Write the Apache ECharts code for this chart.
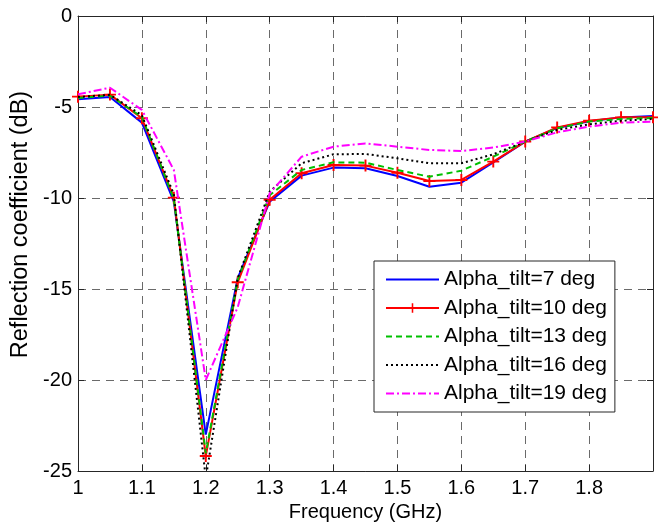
<!DOCTYPE html>
<html>
<head>
<meta charset="utf-8">
<script src="https://cdn.jsdelivr.net/npm/echarts@6/dist/echarts.min.js"></script>
<style>
html,body{margin:0;padding:0;background:#fff;}
#chart{width:658px;height:529px;}
</style>
</head>
<body>
<div id="chart"></div>
<script>
const freq = [1.00,1.05,1.10,1.15,1.20,1.25,1.30,1.35,1.40,1.45,1.50,1.55,1.60,1.65,1.70,1.75,1.80,1.85,1.90];
const tilt7  = [-4.58,-4.45,-5.86,-10.2,-23.0,-14.4,-10.2,-8.77,-8.33,-8.37,-8.79,-9.38,-9.16,-8.05,-6.9,-6.15,-5.78,-5.57,-5.49];
const tilt10 = [-4.43,-4.32,-5.62,-9.98,-24.18,-14.63,-10.1,-8.64,-8.19,-8.22,-8.61,-9.07,-9.01,-8.0,-6.9,-6.12,-5.75,-5.57,-5.57];
const tilt13 = [-4.5,-4.38,-5.55,-10.05,-24.03,-14.5,-9.85,-8.46,-8.04,-8.06,-8.46,-8.83,-8.5,-7.73,-6.9,-6.17,-5.8,-5.66,-5.6];
const tilt16 = [-4.45,-4.33,-5.45,-9.8,-25.4,-14.4,-9.65,-8.09,-7.6,-7.58,-7.82,-8.09,-8.09,-7.6,-6.9,-6.26,-5.95,-5.76,-5.66];
const tilt19 = [-4.3,-3.94,-5.16,-8.46,-20.0,-16.0,-9.75,-7.73,-7.18,-7.0,-7.18,-7.36,-7.42,-7.23,-6.9,-6.39,-6.08,-5.86,-5.8];
const seriesNames = ['Alpha_tilt=7 deg','Alpha_tilt=10 deg','Alpha_tilt=13 deg','Alpha_tilt=16 deg','Alpha_tilt=19 deg'];
const xTicks = [1,1.1,1.2,1.3,1.4,1.5,1.6,1.7,1.8];
const yTicks = [-25,-20,-15,-10,-5,0];

const FONT = '"Liberation Sans", Arial, sans-serif';
const pair = arr => freq.map((f,i)=>[f,arr[i]]);
const plusPath = 'path://M4.2,0L5.8,0L5.8,4.2L10,4.2L10,5.8L5.8,5.8L5.8,10L4.2,10L4.2,5.8L0,5.8L0,4.2L4.2,4.2Z';

const chart = echarts.init(document.getElementById('chart'));
const axisLineStyle = {color:'#262626', width:1};
const gridLine = {show:true, lineStyle:{color:'#6a6a6a', width:1, type:[8,6]}};

function mkSeries(name, data, color, type, extra){
  return Object.assign({
    name, type:'line', data:pair(data), symbol:'circle', showSymbol:false, clip:true,
    lineStyle:{color, width:2, type}, itemStyle:{color}, animation:false, z:3
  }, extra||{});
}

chart.setOption({
  animation:false,
  backgroundColor:'#fff',
  textStyle:{fontFamily:FONT},
  grid:{left:78, right:5, top:16, bottom:58},
  legend:{
    orient:'vertical', left:374, top:261,
    backgroundColor:'#fff', borderColor:'#262626', borderWidth:1,
    padding:[8,8,8,11], itemGap:7.5, itemWidth:53, itemHeight:12,
    textStyle:{fontSize:21, color:'#000', fontFamily:FONT, lineHeight:20},
    data:seriesNames.map((n,i)=> i===1 ? {name:n} : {name:n, itemStyle:{opacity:0}})
  },
  xAxis:[{
    type:'value', min:1, max:1.9, interval:0.1, position:'bottom',
    name:'Frequency (GHz)', nameLocation:'middle', nameGap:29,
    nameTextStyle:{fontSize:20, color:'#000', fontFamily:FONT},
    axisLine:{show:true, onZero:false, lineStyle:axisLineStyle},
    axisTick:{show:true, inside:true, length:6, lineStyle:axisLineStyle},
    axisLabel:{fontSize:20, color:'#000', margin:7, fontFamily:FONT,
      formatter:v=>{const r=Math.round(v*10)/10; return xTicks.indexOf(r)>=0? String(r):'';}},
    splitLine:gridLine
  },{
    type:'value', min:1, max:1.9, interval:0.1, position:'top',
    axisLine:{show:true, onZero:false, lineStyle:axisLineStyle},
    axisTick:{show:true, inside:true, length:6, lineStyle:axisLineStyle},
    axisLabel:{show:false}, splitLine:{show:false}
  }],
  yAxis:[{
    type:'value', min:-25, max:0, interval:5, position:'left',
    name:'Reflection coefficient (dB)', nameLocation:'middle', nameGap:44,
    nameTextStyle:{fontSize:23.5, color:'#000', fontFamily:FONT, padding:[0,0,0,38]},
    axisLine:{show:true, onZero:false, lineStyle:axisLineStyle},
    axisTick:{show:true, inside:true, length:6, lineStyle:axisLineStyle},
    axisLabel:{fontSize:20, color:'#000', margin:6, fontFamily:FONT,
      formatter:v=>yTicks.indexOf(Math.round(v))>=0? String(Math.round(v)):''},
    splitLine:gridLine
  },{
    type:'value', min:-25, max:0, interval:5, position:'right',
    axisLine:{show:true, onZero:false, lineStyle:axisLineStyle},
    axisTick:{show:true, inside:true, length:6, lineStyle:axisLineStyle},
    axisLabel:{show:false}, splitLine:{show:false}
  }],
  series:[
    mkSeries(seriesNames[0], tilt7, '#0000ff', 'solid'),
    mkSeries(seriesNames[1], tilt10, '#ff0000', 'solid', {symbol:plusPath, symbolSize:12, showSymbol:true, itemStyle:{color:'#ff0000'}, z:4}),
    mkSeries(seriesNames[2], tilt13, '#00c000', [6,4], {z:5}),
    mkSeries(seriesNames[3], tilt16, '#000000', [2,3], {z:6}),
    mkSeries(seriesNames[4], tilt19, '#ff00ff', [8,3,2,3], {z:7})
  ]
});
</script>
</body>
</html>
